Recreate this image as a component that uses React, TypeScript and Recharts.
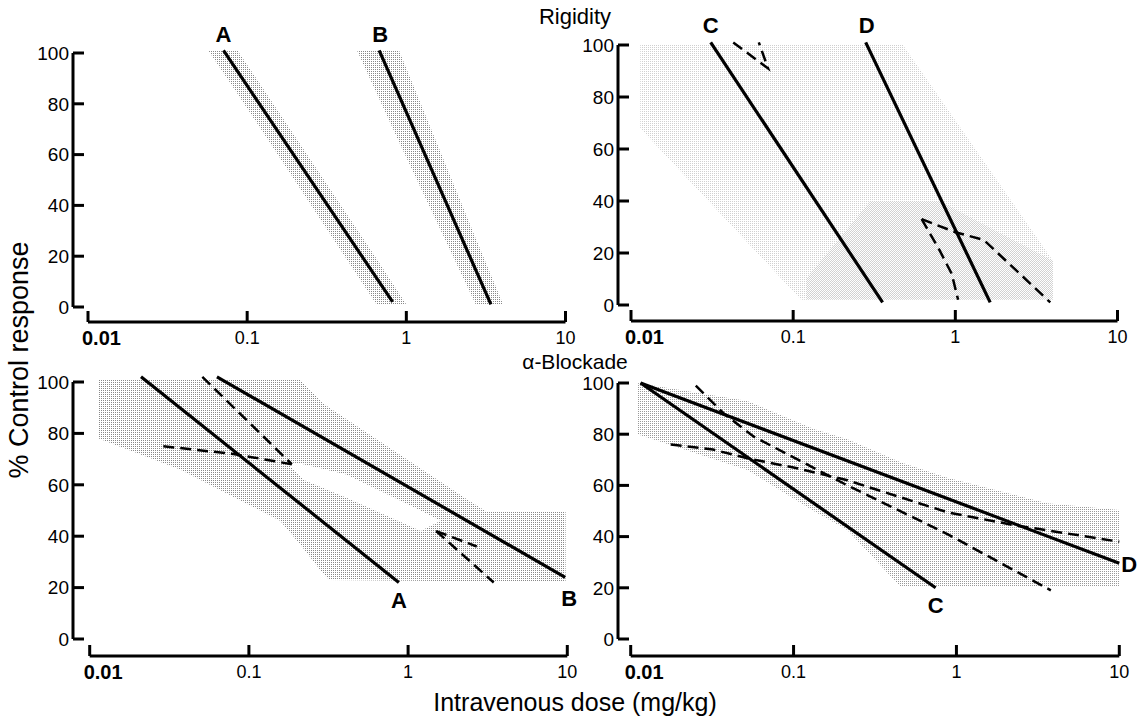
import React from "react";
import { ComposedChart, Line, Area, XAxis, YAxis, ReferenceLine, ReferenceDot } from "recharts";

const FONT = '"Liberation Sans", Arial, Helvetica, sans-serif';

const xTicks = [0.01, 0.1, 1, 10];
const xTickLabels = ["0.01", "0.1", "1", "10"];
const yTicks = [0, 20, 40, 60, 80, 100];

// Rigidity — compounds A, B
const rigA = [{ x: 0.071, y: 101 }, { x: 0.82, y: 2 }];
const rigB = [{ x: 0.675, y: 101 }, { x: 3.4, y: 1 }];
const rigBandA = [
  { x: 0.057, r: [101, 101] },
  { x: 0.087, r: [84, 101] },
  { x: 0.65, r: [1, 19] },
  { x: 1.0, r: [1, 1] },
];
const rigBandB = [
  { x: 0.49, r: [101, 101] },
  { x: 0.9, r: [65, 101] },
  { x: 2.73, r: [1, 27] },
  { x: 4.06, r: [1, 1] },
];

// Rigidity — compounds C, D
const rigC = [{ x: 0.031, y: 101 }, { x: 0.356, y: 1 }];
const rigD = [{ x: 0.28, y: 101 }, { x: 1.64, y: 1 }];
const rigDashTop = [{ x: 0.0427, y: 101 }, { x: 0.07, y: 91 }, { x: 0.0614, y: 101 }];
const rigDashKnee = [{ x: 0.62, y: 33 }, { x: 1.0, y: 28 }, { x: 1.5, y: 25 }, { x: 3.85, y: 1 }];
const rigDashCurve = [{ x: 0.62, y: 33 }, { x: 0.8, y: 21 }, { x: 0.95, y: 12 }, { x: 1.04, y: 2 }];
const rigBandCD = [
  { x: 0.0114, r: [68, 100] },
  { x: 0.112, r: [2, 100] },
  { x: 0.475, r: [2, 100] },
  { x: 4.0, r: [2, 17] },
];
const rigCoreCD = [
  { x: 0.12, r: [2, 10] },
  { x: 0.3, r: [2, 40] },
  { x: 0.8, r: [2, 40] },
  { x: 1.6, r: [2, 30] },
  { x: 4.0, r: [2, 17] },
];

// alpha-blockade — compounds A, B
const blkA = [{ x: 0.021, y: 102 }, { x: 0.875, y: 22 }];
const blkB = [{ x: 0.063, y: 102 }, { x: 9.7, y: 24 }];
const blkDash1 = [{ x: 0.051, y: 102 }, { x: 0.186, y: 68 }];
const blkDash2 = [{ x: 0.029, y: 75 }, { x: 0.08, y: 72 }, { x: 0.186, y: 68 }];
const blkDash3 = [{ x: 1.5, y: 42 }, { x: 2.7, y: 36 }];
const blkDash4 = [{ x: 1.5, y: 42 }, { x: 3.45, y: 22 }];
const blkBandAB = [
  { x: 0.0114, r: [78, 101] },
  { x: 0.037, r: [66, 101] },
  { x: 0.157, r: [46, 101] },
  { x: 0.209, r: [37, 101] },
  { x: 0.288, r: [26, 92] },
  { x: 0.32, r: [23, 90] },
  { x: 2.39, r: [22.5, 54] },
  { x: 3.12, r: [22.5, 49.5] },
  { x: 9.75, r: [22.5, 49.5] },
];
const blkGapAB = [
  { x: 0.17, r: [69, 69] },
  { x: 0.22, r: [62, 68] },
  { x: 0.41, r: [55, 64] },
  { x: 1.2, r: [42, 50] },
  { x: 1.6, r: [46, 46] },
];

// alpha-blockade — compounds C, D
const blkC = [{ x: 0.0115, y: 100 }, { x: 0.745, y: 20 }];
const blkD = [{ x: 0.0115, y: 100 }, { x: 10, y: 29.6 }];
const blkDashSteep = [
  { x: 0.0251, y: 99 }, { x: 0.0374, y: 88 }, { x: 0.0571, y: 79 },
  { x: 0.214, y: 60 }, { x: 0.88, y: 41 }, { x: 3.8, y: 19 },
];
const blkDashFlat = [
  { x: 0.0176, y: 76 }, { x: 0.032, y: 74 }, { x: 0.052, y: 70.6 }, { x: 0.105, y: 66.7 },
  { x: 0.214, y: 62 }, { x: 0.88, y: 49.5 }, { x: 2.25, y: 44.5 }, { x: 10, y: 38 },
];
const blkBandCD = [
  { x: 0.011, r: [80, 100] },
  { x: 0.052, r: [66, 93] },
  { x: 0.133, r: [50, 82] },
  { x: 0.214, r: [42.6, 78] },
  { x: 0.454, r: [20.4, 69] },
  { x: 0.88, r: [20.4, 63] },
  { x: 3.6, r: [20.4, 53] },
  { x: 10, r: [20.4, 50.4] },
];

type Pt = { x: number; y: number };
type BandPt = { x: number; r: number[] };
type Lay = { axisX: number; x001: number; x10: number; y100: number; y0: number; axisY: number };
type Lbl = { name: string; at: Pt; dx: number; dy: number; anchor: string };
type Shade = { data: BandPt[]; dot: string; off?: number };

const PAD_T = 12;
const PAD_R = 20;
const YW = 60;
const M_TOP = 30;
const M_RIGHT = 40;
const XH = 40;

const YTick = (p: any) => (
  <g>
    <line x1={p.x} y1={p.y} x2={p.x + 11} y2={p.y} stroke="#000" strokeWidth={3} />
    <text x={p.x - 4} y={p.y} dy="0.36em" textAnchor="end" fontSize={19} fontFamily={FONT} fill="#000">
      {p.payload.value}
    </text>
  </g>
);

const XTick = (p: any) => {
  const i = xTicks.indexOf(p.payload.value);
  const first = i === 0;
  return (
    <g>
      <line x1={p.x} y1={p.y} x2={p.x} y2={p.y - 11} stroke="#000" strokeWidth={3} />
      <text
        x={first ? p.x - 6 : p.x}
        y={p.y + 16}
        dy="0.36em"
        textAnchor={first ? "start" : "middle"}
        fontWeight={first ? 700 : 400}
        fontSize={first ? 20 : 18}
        fontFamily={FONT}
        fill="#000"
      >
        {xTickLabels[i]}
      </text>
    </g>
  );
};

interface PanelProps {
  id: string;
  lay: Lay;
  shades: Shade[];
  gaps?: BandPt[][];
  solid: Pt[][];
  dashed: Pt[][];
  labels: Lbl[];
}

const Panel = ({ id, lay, shades, gaps = [], solid, dashed, labels }: PanelProps) => {
  const decade = (lay.x10 - lay.x001) / 3;
  const pxPerUnit = (lay.y0 - lay.y100) / 100;
  const xMin = Math.pow(10, -2 - (lay.x001 - lay.axisX) / decade);
  const xMax = Math.pow(10, 1 + PAD_R / decade);
  const yMax = 100 + PAD_T / pxPerUnit;
  const yMin = -(lay.axisY - lay.y0) / pxPerUnit;
  const left = lay.axisX - YW;
  const top = lay.y100 - PAD_T - M_TOP;
  const width = lay.x10 + PAD_R + M_RIGHT - left;
  const height = lay.axisY + XH - top;

  return (
    <div style={{ position: "absolute", left, top, width, height }}>
      <ComposedChart width={width} height={height} margin={{ top: M_TOP, right: M_RIGHT, bottom: 0, left: 0 }}>
        <defs>
          {shades.map((s, i) => (
            <pattern key={i} id={`dots-${id}-${i}`} width={2} height={2} patternUnits="userSpaceOnUse">
              <rect x={s.off || 0} y={s.off || 0} width={1} height={1} fill={s.dot} />
            </pattern>
          ))}
        </defs>
        <XAxis
          dataKey="x"
          type="number"
          scale="log"
          domain={[xMin, xMax]}
          allowDataOverflow
          ticks={xTicks}
          interval={0}
          axisLine={false}
          tickLine={false}
          tickSize={0}
          tickMargin={0}
          height={XH}
          tick={XTick}
        />
        <YAxis
          type="number"
          domain={[yMin, yMax]}
          allowDataOverflow
          ticks={yTicks}
          interval={0}
          axisLine={false}
          tickLine={false}
          tickSize={0}
          tickMargin={0}
          width={YW}
          tick={YTick}
        />
        {shades.map((s, i) => (
          <Area
            key={`band${i}`}
            data={s.data}
            dataKey="r"
            type="linear"
            stroke="none"
            fill={`url(#dots-${id}-${i})`}
            fillOpacity={1}
            isAnimationActive={false}
            dot={false}
            activeDot={false}
          />
        ))}
        {gaps.map((g, i) => (
          <Area
            key={`gap${i}`}
            data={g}
            dataKey="r"
            type="linear"
            stroke="none"
            fill="#fff"
            fillOpacity={1}
            isAnimationActive={false}
            dot={false}
            activeDot={false}
          />
        ))}
        {dashed.map((d, i) => (
          <Line
            key={`dash${i}`}
            data={d}
            dataKey="y"
            type="linear"
            stroke="#000"
            strokeWidth={2.5}
            strokeDasharray="11 6"
            dot={false}
            activeDot={false}
            isAnimationActive={false}
          />
        ))}
        {solid.map((s, i) => (
          <Line
            key={`solid${i}`}
            data={s}
            dataKey="y"
            type="linear"
            stroke="#000"
            strokeWidth={3.2}
            dot={false}
            activeDot={false}
            isAnimationActive={false}
          />
        ))}
        <ReferenceLine
          segment={[{ x: xMin, y: 0 }, { x: xMin, y: 100 }]}
          stroke="#000"
          strokeWidth={3}
          ifOverflow="visible"
        />
        <ReferenceLine
          segment={[{ x: 0.01, y: yMin }, { x: 10, y: yMin }]}
          stroke="#000"
          strokeWidth={3}
          ifOverflow="visible"
        />
        {labels.map((l) => (
          <ReferenceDot
            key={l.name}
            x={l.at.x}
            y={l.at.y}
            r={0}
            ifOverflow="visible"
            shape={(s: any) => (
              <text
                x={s.cx + l.dx}
                y={s.cy + l.dy}
                textAnchor={l.anchor}
                fontSize={22}
                fontWeight={700}
                fontFamily={FONT}
                fill="#000"
              >
                {l.name}
              </text>
            )}
          />
        ))}
      </ComposedChart>
    </div>
  );
};

const textStyle = (cx: number, cy: number, size: number, rotate = 0): React.CSSProperties => ({
  position: "absolute",
  left: cx,
  top: cy,
  transform: `translate(-50%, -50%) rotate(${rotate}deg)`,
  fontSize: size,
  fontFamily: FONT,
  whiteSpace: "nowrap",
  lineHeight: 1,
  color: "#000",
});

const App = () => (
  <div style={{ position: "absolute", left: 0, top: 0, width: 1148, height: 719, background: "#fff", overflow: "hidden" }}>
    <Panel
      id="rigAB"
      lay={{ axisX: 73, x001: 88, x10: 565.5, y100: 53, y0: 307, axisY: 322 }}
      shades={[{ data: rigBandA, dot: "#888" }, { data: rigBandB, dot: "#888" }]}
      solid={[rigA, rigB]}
      dashed={[]}
      labels={[
        { name: "A", at: rigA[0], dx: 0, dy: -8, anchor: "middle" },
        { name: "B", at: rigB[0], dx: 1, dy: -8, anchor: "middle" },
      ]}
    />
    <Panel
      id="rigCD"
      lay={{ axisX: 618, x001: 631, x10: 1117.5, y100: 45, y0: 305, axisY: 321 }}
      shades={[{ data: rigBandCD, dot: "#d0d0d0" }, { data: rigCoreCD, dot: "#d4d4d4", off: 1 }]}
      solid={[rigC, rigD]}
      dashed={[rigDashTop, rigDashKnee, rigDashCurve]}
      labels={[
        { name: "C", at: rigC[0], dx: 0, dy: -9, anchor: "middle" },
        { name: "D", at: rigD[0], dx: 1, dy: -9, anchor: "middle" },
      ]}
    />
    <Panel
      id="blkAB"
      lay={{ axisX: 73, x001: 89.7, x10: 567.3, y100: 382, y0: 639, axisY: 656 }}
      shades={[{ data: blkBandAB, dot: "#888" }]}
      gaps={[blkGapAB]}
      solid={[blkA, blkB]}
      dashed={[blkDash1, blkDash2, blkDash3, blkDash4]}
      labels={[
        { name: "A", at: blkA[1], dx: 0, dy: 26, anchor: "middle" },
        { name: "B", at: blkB[1], dx: 4, dy: 29, anchor: "middle" },
      ]}
    />
    <Panel
      id="blkCD"
      lay={{ axisX: 618, x001: 630.7, x10: 1119.3, y100: 383, y0: 639, axisY: 656 }}
      shades={[{ data: blkBandCD, dot: "#999" }]}
      solid={[blkC, blkD]}
      dashed={[blkDashSteep, blkDashFlat]}
      labels={[
        { name: "C", at: blkC[1], dx: 0, dy: 25, anchor: "middle" },
        { name: "D", at: blkD[1], dx: 2, dy: 9, anchor: "start" },
      ]}
    />
    <div style={textStyle(575, 17, 22)}>Rigidity</div>
    <div style={textStyle(575, 361, 21)}>α-Blockade</div>
    <div style={textStyle(19, 360, 27, -90)}>% Control response</div>
    <div style={textStyle(575, 702, 25)}>Intravenous dose (mg/kg)</div>
  </div>
);

export default App;
